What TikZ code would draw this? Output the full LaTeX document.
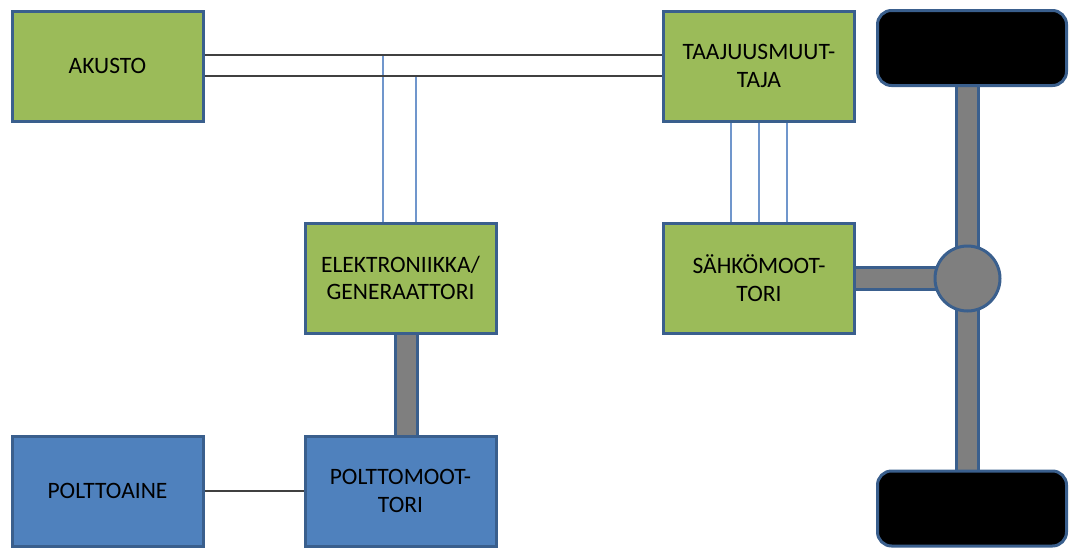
\documentclass[tikz,border=0pt]{standalone}
\usepackage{fontspec}
\setmainfont{Carlito}
\usetikzlibrary{backgrounds,calc}
\definecolor{grn}{HTML}{9BBB59}
\definecolor{blu}{HTML}{4F81BD}
\definecolor{edge}{HTML}{3A5F8D}
\definecolor{shaft}{HTML}{7F7F7F}
\definecolor{wire}{HTML}{7096CC}
\begin{document}
\begin{tikzpicture}[x=1pt,y=-1pt,
  box/.style={draw=edge,line width=3pt,minimum width=191pt,minimum height=110pt,
    align=center,font=\fontsize{23.5}{27.5}\selectfont,inner sep=0pt},
  gbox/.style={box,fill=grn},
  bbox/.style={box,fill=blu},
  wheel/.style={draw=edge,line width=3pt,fill=black,rounded corners=14pt,
    minimum width=189pt,minimum height=75pt},
  hub/.style={draw=edge,line width=3pt,fill=shaft,circle,minimum size=65pt,inner sep=0pt},
  shaftline/.style={line width=3pt,draw=edge,double=shaft,double distance=19pt},
  wireb/.style={draw=wire,line width=1.1pt},
  wirek/.style={draw=black!75,line width=1.2pt}]
\useasboundingbox (0,0) rectangle (1072,549);
\node[gbox] (ak) at (107.5,66) {AKUSTO};
\node[gbox] (tm) at (759,66) {TAAJUUSMUUT-\\TAJA};
\node[gbox] (eg) at (400.5,278) {ELEKTRONIIKKA/\\GENERAATTORI};
\node[gbox] (sm) at (759,278) {SÄHKÖMOOT-\\TORI};
\node[bbox] (pa) at (107.5,491) {POLTTOAINE};
\node[bbox] (pm) at (400.5,491) {POLTTOMOOT-\\TORI};
\node[wheel] (w1) at (972,48) {};
\node[wheel] (w2) at (972,508.5) {};
\node[hub] (hub) at (967.5,278.5) {};
\coordinate (a1) at (ak.east |- 0,55);
\coordinate (a2) at (ak.east |- 0,76);
\coordinate (t1) at (tm.west |- 0,55);
\coordinate (t2) at (tm.west |- 0,76);
\coordinate (j1) at (383,55);
\coordinate (j2) at (416,76);
\begin{scope}[on background layer]
\draw[shaftline] (w1.center -| hub.center) -- (w2.center -| hub.center);
\draw[shaftline] (sm.center |- hub.center) -- (hub.center);
\draw[shaftline] (eg.center -| 406,0) -- (pm.center -| 406,0);
\draw[wireb] (j1) -- (eg.north -| j1);
\draw[wireb] (j2) -- (eg.north -| j2);
\foreach \x in {731,759,787} \draw[wireb] (tm.south -| \x,0) -- (sm.north -| \x,0);
\end{scope}
\draw[wirek] (a1) -- (t1);
\draw[wirek] (a2) -- (t2);
\draw[wirek] (pa.east) -- (pm.west);
\end{tikzpicture}
\end{document}
